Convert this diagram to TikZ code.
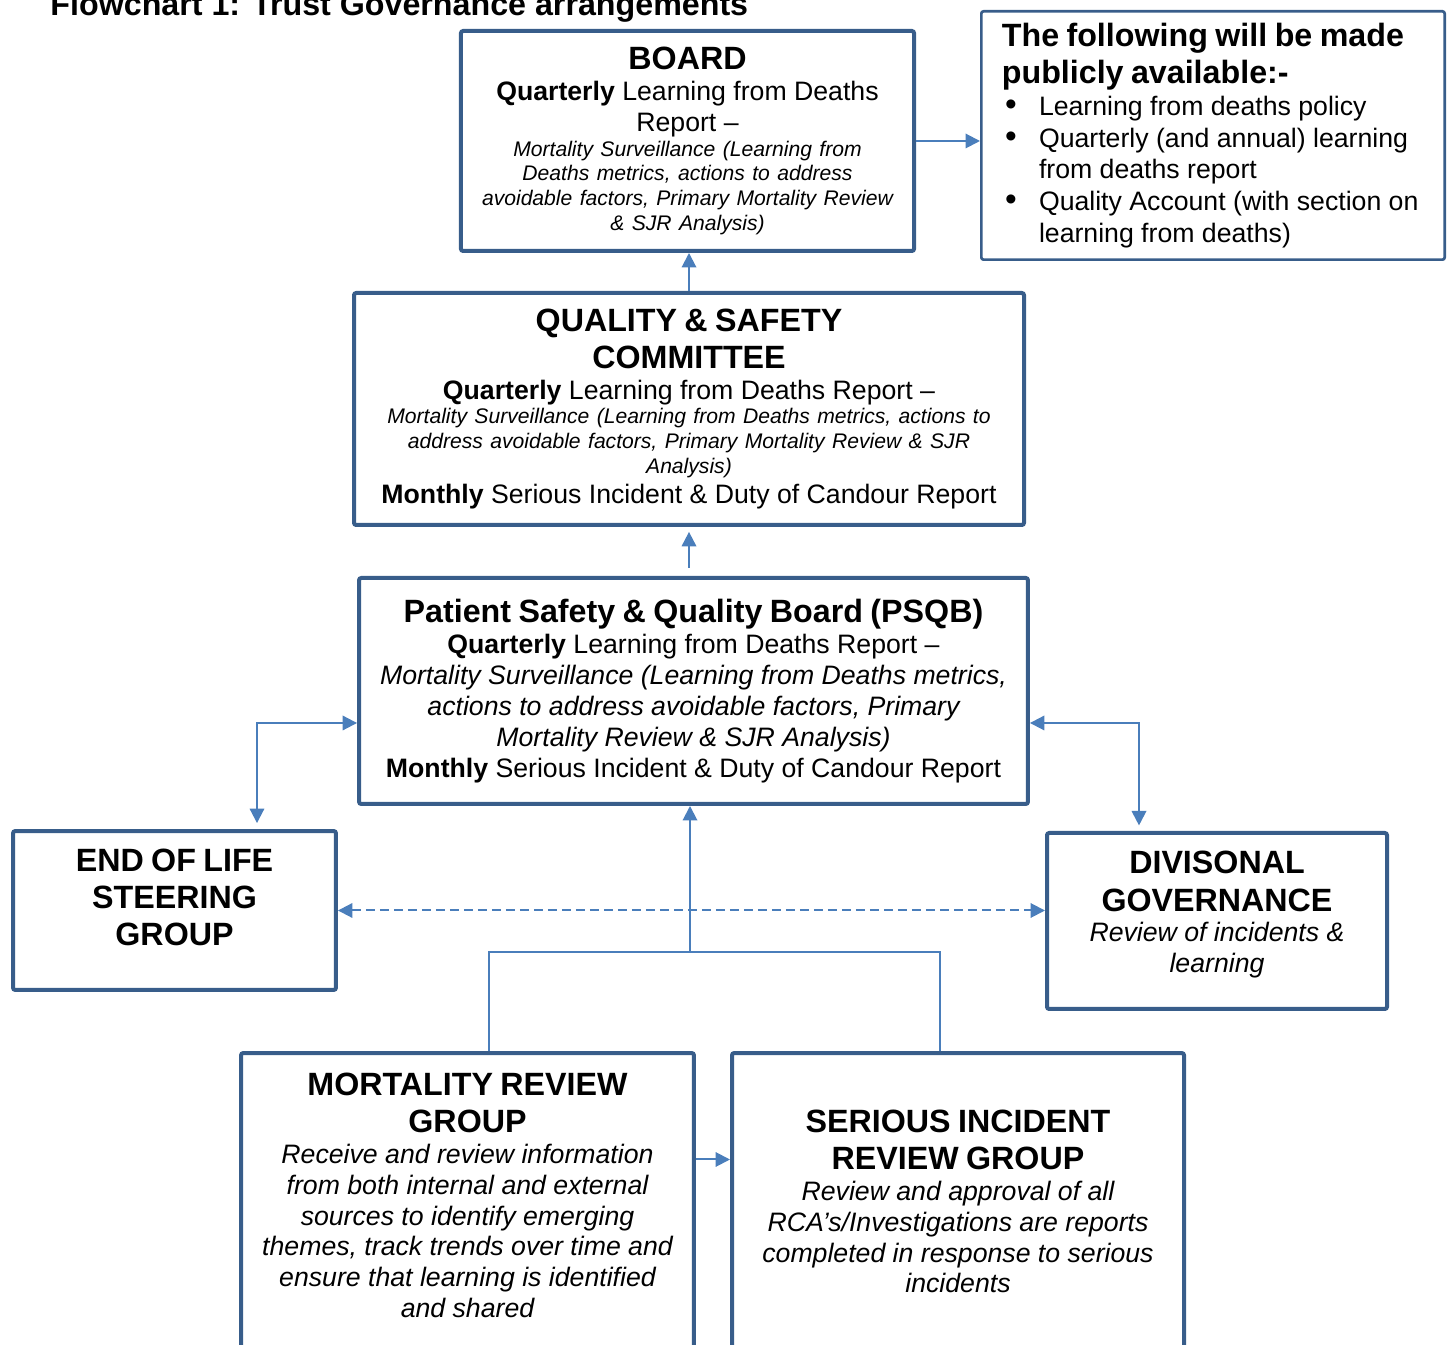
\documentclass[tikz,border=0pt]{standalone}
\usepackage{fontspec}
\setmainfont{Liberation Sans}
\usetikzlibrary{arrows.meta}
\definecolor{boxblue}{RGB}{56,93,138}
\definecolor{linkblue}{RGB}{74,126,187}
\newcommand{\hdfont}{\normalfont\fontsize{14.5}{16.7}\selectfont\bfseries}
\newcommand{\txtfont}{\normalfont\fontsize{12}{13.9}\selectfont}
\newcommand{\smfont}{\normalfont\fontsize{9.5}{11.1}\selectfont\itshape}
\newcommand{\pub}[1]{\hangindent=16.7pt\hangafter=1\noindent\makebox[16.7pt][l]{\hspace{1.5pt}{\fontsize{15}{14}\selectfont\textbullet}}#1\par}
\newcommand{\lift}[1]{\par\vspace{#1}\hrule height 0pt width 0pt}

\begin{document}
\begin{tikzpicture}[x=0.45pt,y=-0.45pt,>={Triangle[length=6.5pt,width=6.5pt]},
  box/.style={draw=boxblue,line width=1.8pt,rounded corners=1pt,align=center,inner sep=2pt},
  link/.style={draw=linkblue,line width=0.9pt,->},
  line/.style={draw=linkblue,line width=0.9pt}]
\useasboundingbox (0,0) rectangle (1451,1345);
\node[anchor=base west,font=\hdfont,inner sep=0pt] (title) at (50,16) {Flowchart 1: Trust Governance arrangements};
% top row
\node[box,text width=196pt,minimum width=203.9pt,minimum height=99pt] (board) at (687.5,141)
  {\hdfont BOARD\par
   \txtfont\textbf{Quarterly} Learning from Deaths\\Report –\par
   \smfont Mortality Surveillance (Learning from\\Deaths metrics, actions to address\\avoidable factors, Primary Mortality Review\\\& SJR Analysis)\par};
\node[box,line width=1.2pt,align=left,text width=190pt,minimum width=208.5pt,minimum height=111.75pt] (public) at (1213,135.5)
  {\hdfont The following will be made\\publicly available:-\par
   \normalfont\fontsize{12}{14.3}\selectfont\pub{Learning from deaths policy}\pub{Quarterly (and annual) learning\newline from deaths report}\pub{Quality Account (with section on\newline learning from deaths)}};
% committees
\node[box,text width=290pt,minimum width=301.5pt,minimum height=104.4pt] (qs) at (689,409)
  {\hdfont QUALITY \& SAFETY\\COMMITTEE\par
   \txtfont\textbf{Quarterly} Learning from Deaths Report –\par
   \smfont Mortality Surveillance (Learning from Deaths metrics, actions to\\address avoidable factors, Primary Mortality Review \& SJR\\Analysis)\par
   \txtfont\textbf{Monthly} Serious Incident \& Duty of Candour Report\par};
\node[box,text width=292pt,minimum width=301pt,minimum height=101.7pt] (psqb) at (693.5,691)
  {\hdfont Patient Safety \& Quality Board (PSQB)\par
   \txtfont\textbf{Quarterly} Learning from Deaths Report –\par
   \itshape Mortality Surveillance (Learning from Deaths metrics,\\actions to address avoidable factors, Primary\\Mortality Review \& SJR Analysis)\par
   \txtfont\textbf{Monthly} Serious Incident \& Duty of Candour Report\par};
% groups
\node[box,text width=135pt,minimum width=145.3pt,minimum height=71.5pt] (eol) at (174.5,910.5)
  {\hdfont END OF LIFE\\STEERING\\GROUP\lift{11.5pt}};
\node[box,text width=145pt,minimum width=153pt,minimum height=79.2pt] (div) at (1217,921)
  {\hdfont DIVISONAL\\GOVERNANCE\par
   \txtfont\itshape Review of incidents \&\\learning\lift{5.5pt}};
\node[box,text width=196pt,minimum width=203.8pt,minimum height=133.6pt] (mrg) at (467.5,1201.5)
  {\hdfont MORTALITY REVIEW\\GROUP\par
   \txtfont\itshape Receive and review information\\from both internal and external\\sources to identify emerging\\themes, track trends over time and\\ensure that learning is identified\\and shared\lift{5.5pt}};
\node[box,text width=196pt,minimum width=203.4pt,minimum height=133.6pt] (sirg) at (958,1201.5)
  {\hdfont SERIOUS INCIDENT\\REVIEW GROUP\par
   \txtfont\itshape Review and approval of all\\RCA’s/Investigations are reports\\completed in response to serious\\incidents\par};
% connectors
\coordinate (lcorner) at (257,723);
\coordinate (rcorner) at (1139,723);
\coordinate (fork) at (690,952);
\coordinate (mleg) at (489,952);
\coordinate (sleg) at (940,952);
\draw[link] (board.east) -- (board.east -| public.west);
\draw[link] (qs.north) -- (qs.north |- board.south);
\draw[link,shorten <=3.6pt,shorten >=2.2pt] (psqb.north -| qs.south) -- (qs.south);
\draw[link,<->,shorten <=2.7pt] (eol.north -| lcorner) |- (lcorner -| psqb.west);
\draw[link,<->,shorten >=2.5pt] (rcorner -| psqb.east) -| (div.north -| rcorner);
\draw[link,<->,dash pattern=on 4pt off 2.3pt] (eol.east) -- (eol.east -| div.west);
\draw[link] (fork) -- (fork |- psqb.south);
\draw[line] (mrg.north -| mleg) -- (mleg) -- (sleg) -- (sirg.north -| sleg);
\draw[link] (mrg.east) ++(0,-42) coordinate (m2s) -- (m2s -| sirg.west);
\end{tikzpicture}
\end{document}
